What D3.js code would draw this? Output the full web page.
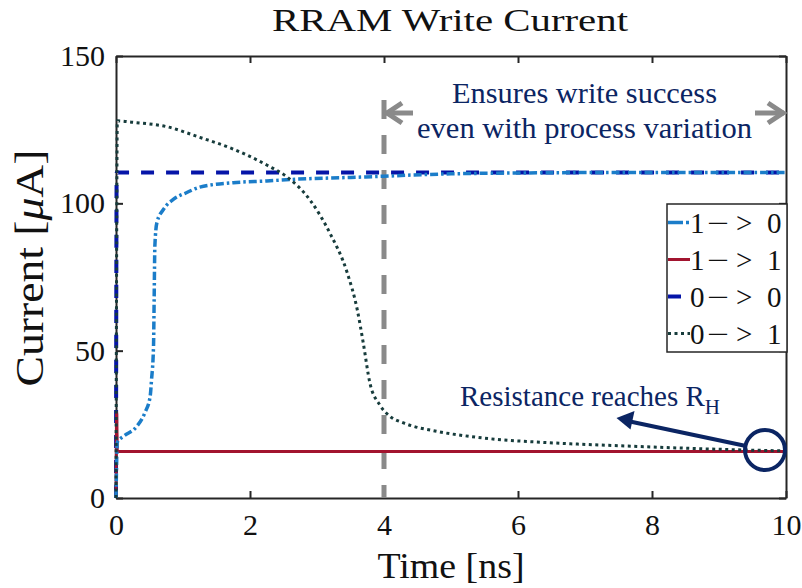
<!DOCTYPE html>
<html><head><meta charset="utf-8">
<script src="https://cdn.jsdelivr.net/npm/d3@7"></script>
<style>body{margin:0;background:#fff}svg{display:block}</style>
</head><body>
<script>
// ---- data ----
const xTicks = [0, 2, 4, 6, 8, 10];
const yTicks = [0, 50, 100, 150];
const seriesNames = ["1\u2212 > 0", "1\u2212 > 1", "0\u2212 > 0", "0\u2212 > 1"];
const t10 = [0, 0.02, 0.11, 0.31, 0.43, 0.51, 0.53, 0.56, 0.57, 0.58, 0.61, 0.71, 0.86, 1.05, 1.25, 1.75, 2.25, 2.7, 3.5, 4, 4.4, 5, 6, 8, 10];
const v10 = [0, 19, 20.9, 24.3, 28.9, 34.5, 40, 51.5, 68.5, 85.5, 93.4, 98, 101.4, 103.6, 105.5, 107, 107.6, 108.2, 108.8, 109.2, 109.6, 110, 110.3, 110.5, 110.5];
const t11 = [0, 0.01, 0.02, 0.04, 10];
const v11 = [0, 29, 15.8, 15.8, 15.8];
const t00 = [0, 0.01, 10];
const v00 = [0, 110.5, 110.5];
const t01 = [0, 0.02, 0.25, 0.76, 1.25, 1.75, 2.25, 2.55, 2.9, 3.19, 3.45, 3.6, 3.69, 3.79, 3.94, 4.09, 4.29, 4.79, 5.28, 5.78, 6.28, 6.78, 7.78, 8.76, 9.76, 10];
const v01 = [0, 128, 127.5, 126, 122.4, 118.4, 113, 109, 101, 90, 76.5, 64, 52.7, 39, 31.5, 27.7, 25.5, 22.6, 20.9, 19.7, 19, 18.4, 17.5, 16.7, 16.1, 16];

const W = 802, H = 588;
const m = {l:116, r:786, t:56, b:498};
const x = d3.scaleLinear().domain([0,10]).range([m.l, m.r]);
const y = d3.scaleLinear().domain([0,150]).range([m.b, m.t]);

const svg = d3.select("body").append("svg").attr("width", W).attr("height", H);
const serif = "'Liberation Serif','DejaVu Serif',serif";
const navy = "#0b2563";
const ink = "#111";

// title
svg.append("text").attr("x", 450).attr("y", 31).attr("text-anchor","middle")
  .style("font-family", serif).style("font-size","32px").attr("fill", ink)
  .attr("textLength", 356).attr("lengthAdjust","spacingAndGlyphs").text("RRAM Write Current");

// axes
const axisColor = "#262626";
const gx = svg.append("g").attr("transform", `translate(0,${m.b})`)
  .call(d3.axisBottom(x).tickValues(xTicks).tickSizeInner(-7).tickSizeOuter(0).tickPadding(16).tickFormat(d3.format("d")));
const gy = svg.append("g").attr("transform", `translate(${m.l},0)`)
  .call(d3.axisLeft(y).tickValues(yTicks).tickSizeInner(-7).tickSizeOuter(0).tickPadding(11).tickFormat(d3.format("d")));
const gxt = svg.append("g").attr("transform", `translate(0,${m.t})`)
  .call(d3.axisTop(x).tickValues(xTicks).tickSizeInner(-7).tickSizeOuter(0).tickFormat(""));
const gyr = svg.append("g").attr("transform", `translate(${m.r},0)`)
  .call(d3.axisRight(y).tickValues(yTicks).tickSizeInner(-7).tickSizeOuter(0).tickFormat(""));
[gx, gy, gxt, gyr].forEach(g => {
  g.select(".domain").attr("stroke", axisColor).attr("stroke-width", 2);
  g.selectAll(".tick line").attr("stroke", axisColor).attr("stroke-width", 2);
  g.selectAll("text").style("font-family", serif).style("font-size", "30px").attr("fill", ink);
});

// axis labels
svg.append("text").attr("x", 451).attr("y", 578).attr("text-anchor","middle")
  .style("font-family", serif).style("font-size","36px").attr("fill", ink)
  .attr("textLength", 147).attr("lengthAdjust","spacingAndGlyphs").text("Time [ns]");
const yl = svg.append("text").attr("transform", `translate(43,268) rotate(-90)`).attr("text-anchor","middle")
  .style("font-family", serif).style("font-size","40px").attr("fill", ink)
  .attr("textLength", 237).attr("lengthAdjust","spacingAndGlyphs");
yl.append("tspan").text("Current [");
yl.append("tspan").style("font-style","italic").text("\u03bc");
yl.append("tspan").text("A]");

// gray dashed line at 4 ns
const gray = "#8a8a8a";
svg.append("line").attr("x1", x(4)).attr("x2", x(4)).attr("y1", 100).attr("y2", m.b)
  .attr("stroke", gray).attr("stroke-width", 5).attr("stroke-dasharray", "19,16");

// lines
const zip = (a, b) => a.map((v, i) => [v, b[i]]);
const styles = {
  s10: {c: "#1b7dc9", w: 3.5, dash: "8,3,2.5,3"},
  s11: {c: "#a2142f", w: 3, dash: null},
  s00: {c: "#0514a8", w: 4, dash: "13,12"},
  s01: {c: "#173c3c", w: 3, dash: "3,3.5"}
};
const series = [
  {d: zip(t00, v00), s: styles.s00},
  {d: zip(t11, v11), s: styles.s11},
  {d: zip(t10, v10), s: styles.s10},
  {d: zip(t01, v01), s: styles.s01}
];
const line = d3.line().curve(d3.curveMonotoneX).x(d => x(d[0])).y(d => y(d[1]));
series.forEach(o => {
  svg.append("path").datum(o.d).attr("d", line)
    .attr("fill","none").attr("stroke", o.s.c).attr("stroke-width", o.s.w).attr("stroke-dasharray", o.s.dash);
});

// annotations top
svg.append("text").attr("x", 584.5).attr("y", 103).attr("text-anchor","middle")
  .style("font-family", serif).style("font-size","29px").attr("fill", navy)
  .attr("textLength", 265).attr("lengthAdjust","spacingAndGlyphs").text("Ensures write success");
svg.append("text").attr("x", 584.5).attr("y", 138).attr("text-anchor","middle")
  .style("font-family", serif).style("font-size","29px").attr("fill", navy)
  .attr("textLength", 335).attr("lengthAdjust","spacingAndGlyphs").text("even with process variation");

// gray arrows
svg.append("line").attr("x1", x(4)+2).attr("x2", 413).attr("y1", 113).attr("y2", 113).attr("stroke", gray).attr("stroke-width", 5);
svg.append("path").attr("d", `M${x(4)+18},103 L${x(4)+3},113 L${x(4)+18},123`).attr("fill","none").attr("stroke", gray).attr("stroke-width", 5);
svg.append("line").attr("x1", 755).attr("x2", m.r-2).attr("y1", 113).attr("y2", 113).attr("stroke", gray).attr("stroke-width", 5);
svg.append("path").attr("d", `M${m.r-18},103 L${m.r-3},113 L${m.r-18},123`).attr("fill","none").attr("stroke", gray).attr("stroke-width", 5);

// resistance annotation
const rt = svg.append("text").attr("x", 460).attr("y", 406)
  .style("font-family", serif).style("font-size","29px").attr("fill", navy);
rt.append("tspan").text("Resistance reaches R");
rt.append("tspan").attr("dy", 8).style("font-size","21px").text("H");
svg.append("circle").attr("cx", 765).attr("cy", 450).attr("r", 20).attr("fill","none").attr("stroke", navy).attr("stroke-width", 4);
svg.append("line").attr("x1", 746).attr("y1", 446).attr("x2", 630).attr("y2", 421.5).attr("stroke", navy).attr("stroke-width", 4);
svg.append("path").attr("d", "M616.5,418 L634.5,411 L630.5,429.5 Z").attr("fill", navy);

// legend
const lg = svg.append("g");
lg.append("rect").attr("x", 667).attr("y", 204).attr("width", 120).attr("height", 148)
  .attr("fill","#fff").attr("stroke", axisColor).attr("stroke-width", 1.5);
const legOrder = [styles.s10, styles.s11, styles.s00, styles.s01];
const legDash = ["15,3,3,20", null, "13,20", "3,3.5"];
const glyphOff = [0, 17, 46, 77];
seriesNames.forEach((n, i) => {
  const yy = 222.5 + i*37;
  lg.append("line").attr("x1", 668).attr("x2", 690).attr("y1", yy).attr("y2", yy)
    .attr("stroke", legOrder[i].c).attr("stroke-width", legOrder[i].w).attr("stroke-dasharray", legDash[i]);
  const parts = [n[0], "\u2212", ">", n[n.length-1]];
  const tx = lg.append("text").style("font-family", serif).style("font-size","29px").attr("fill", ink);
  parts.forEach((p, j) => {
    const ts = tx.append("tspan").attr("x", 690 + glyphOff[j]).attr("y", yy + 10).text(p);
    if (p === "\u2212") ts.attr("textLength", 22).attr("lengthAdjust", "spacingAndGlyphs");
  });
});
</script>
</body></html>
